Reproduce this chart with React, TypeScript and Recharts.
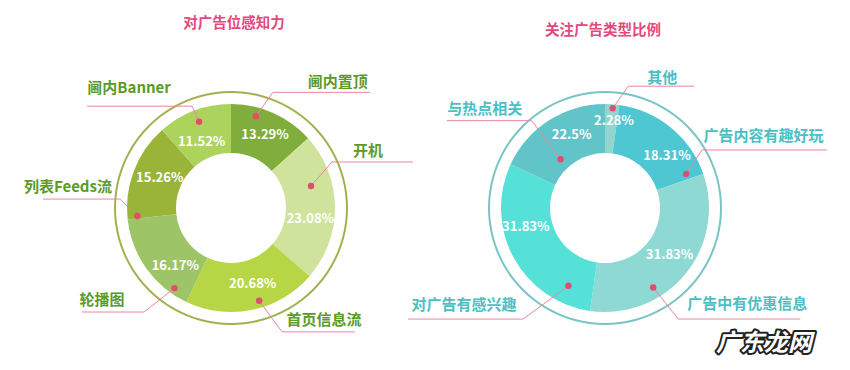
import React from 'react'
import { PieChart, Pie, Cell } from 'recharts'

// 对广告位感知力 (clockwise from 12 o'clock)
const posNames = ['阃内置顶', '开机', '首页信息流', '轮播图', '列表Feeds流', '阃内Banner']
const posShares = [13.29, 23.08, 20.68, 16.17, 15.26, 11.52]
const posColors = ['#80ad3b', '#cfe39c', '#b7d646', '#9dc466', '#9ab43a', '#acd45c']

// 关注广告类型比例 — printed figures add up to 106.75%, so the arcs use the sweep as drawn
const typeNames = ['其他', '广告内容有趣好玩', '广告中有优惠信息', '对广告有感兴趣', '与热点相关']
const typeShares = [2.28, 18.31, 31.83, 31.83, 22.5]
const typeArcs = [2.2, 17.5, 32.6, 29.6, 18.1]
const typeColors = ['#92d4ce', '#4fc7d3', '#8fd9d4', '#56e1d8', '#60c4c8']

const posData = posNames.map((name, i) => ({ name, value: posShares[i], label: posShares[i] }))
const typeData = typeNames.map((name, i) => ({ name, value: typeArcs[i], label: typeShares[i] }))

const FONT = "'Noto Sans CJK SC', 'Noto Sans', sans-serif"
const RAD = Math.PI / 180

type Callout = {
  dot: [number, number] // angle, radius
  elbow: [number, number]
  run: number // horizontal tail, signed
  text: [number, number] // offset of label centre from the elbow / tail line
  pct: [number, number] // angle shift from midAngle, radius
}

const posCallouts: Callout[] = [
  { dot: [74.8, 95], elbow: [70.1, 123], run: 97, text: [65, -12], pct: [-0.6, 82] },
  { dot: [15.4, 83], elbow: [24.5, 111], run: 81, text: [36, -12], pct: [-7.5, 80] },
  { dot: [-73.1, 97], elbow: [-67.6, 134], run: 73, text: [42, -13], pct: [4.3, 78] },
  { dot: [-125.2, 98], elbow: [-129.9, 135.6], run: -62, text: [-42, -14], pct: [9.7, 79] },
  { dot: [-175.1, 94], elbow: [175.4, 111.4], run: -77, text: [-52, -14], pct: [-3, 78] },
  { dot: [110.3, 92], elbow: [110.9, 109], run: -105, text: [-63, -20], pct: [2.6, 74] },
]

const typeCallouts: Callout[] = [
  { dot: [85.6, 100], elbow: [79.2, 124], run: 66, text: [34, -10], pct: [-1.8, 89] },
  { dot: [22.8, 88], elbow: [30.9, 113], run: 125, text: [61.5, -15], pct: [-9.7, 82] },
  { dot: [-58.8, 93], elbow: [-56.6, 133], run: 122, text: [69, -16.5], pct: [4.4, 79] },
  { dot: [-115.2, 86], elbow: [-126.4, 138], run: -115, text: [-59, -16], pct: [-16.3, 81] },
  { dot: [132.3, 66], elbow: [130, 114], run: -85, text: [-47, -13], pct: [-8.6, 82] },
]

const polar = (cx: number, cy: number, angle: number, r: number) => [
  cx + r * Math.cos(angle * RAD),
  cy - r * Math.sin(angle * RAD),
]

const callout = (layout: Callout[], textColor: string) => (props: any) => {
  const { cx, cy, midAngle, index, payload } = props
  const c = layout[index]
  if (!c) return null
  const [dx, dy] = polar(cx, cy, c.dot[0], c.dot[1])
  const [ex, ey] = polar(cx, cy, c.elbow[0], c.elbow[1])
  const [px, py] = polar(cx, cy, midAngle + c.pct[0], c.pct[1])
  const name = payload?.name ?? props.name
  const pct = payload?.label ?? props.label
  return (
    <g>
      <text x={px} y={py} fill="#fff" fontSize={13} fontWeight={700} fontFamily={FONT}
        textAnchor="middle" dominantBaseline="central">{`${pct}%`}</text>
      <polyline points={`${dx},${dy} ${ex},${ey} ${ex + c.run},${ey}`} fill="none" stroke="#ea85a2" strokeWidth={1} />
      <circle cx={dx} cy={dy} r={3.2} fill="#e04e6e" />
      <text x={ex + c.text[0]} y={ey + c.text[1]} fill={textColor} fontSize={15} fontWeight={700} fontFamily={FONT}
        textAnchor="middle" dominantBaseline="central">{name}</text>
    </g>
  )
}

export default function App() {
  return (
    <div style={{ position: 'absolute', left: 0, top: 0, width: 850, height: 370, background: '#fff' }}>
      <PieChart width={850} height={370} margin={{ top: 0, right: 0, bottom: 0, left: 0 }}>
        <Pie data={[{ v: 1 }]} dataKey="v" cx={231} cy={208} innerRadius={115} outerRadius={117}
          fill="#a0b250" stroke="none" isAnimationActive={false} />
        <Pie data={[{ v: 1 }]} dataKey="v" cx={605} cy={208} innerRadius={115} outerRadius={117}
          fill="#79c4c4" stroke="none" isAnimationActive={false} />
        <Pie data={posData} dataKey="value" cx={231} cy={208} innerRadius={55} outerRadius={104}
          startAngle={90} endAngle={-270} stroke="none" labelLine={false}
          label={callout(posCallouts, '#5b9b26')} isAnimationActive={false}>
          {posData.map((d, i) => <Cell key={d.name} fill={posColors[i]} />)}
        </Pie>
        <Pie data={typeData} dataKey="value" cx={605} cy={208} innerRadius={55} outerRadius={104}
          startAngle={90} endAngle={-270} stroke="none" labelLine={false}
          label={callout(typeCallouts, '#4bbfc4')} isAnimationActive={false}>
          {typeData.map((d, i) => <Cell key={d.name} fill={typeColors[i]} />)}
        </Pie>
      </PieChart>
      <svg width={850} height={370} style={{ position: 'absolute', left: 0, top: 0, pointerEvents: 'none' }}>
        <text x={234} y={21} fill="#e4487c" fontSize={14.5} fontWeight={700} fontFamily={FONT}
          textAnchor="middle" dominantBaseline="central">对广告位感知力</text>
        <text x={603} y={28} fill="#e4487c" fontSize={14.5} fontWeight={700} fontFamily={FONT}
          textAnchor="middle" dominantBaseline="central">关注广告类型比例</text>
        <text x={764} y={340} fill="#fff" stroke="#222" strokeWidth={4} paintOrder="stroke"
          strokeLinejoin="round" fontSize={24} fontWeight={700} fontStyle="italic" fontFamily={FONT}
          textAnchor="middle" dominantBaseline="central">广东龙网</text>
      </svg>
    </div>
  )
}
